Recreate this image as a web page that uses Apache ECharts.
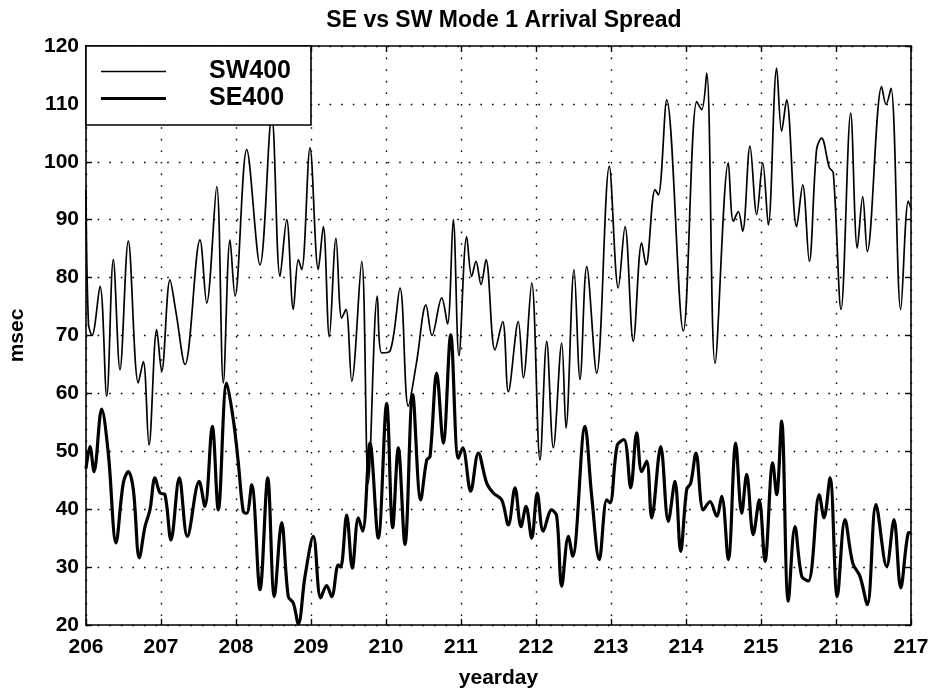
<!DOCTYPE html>
<html>
<head>
<meta charset="utf-8">
<script src="https://cdn.jsdelivr.net/npm/echarts@6/dist/echarts.min.js"></script>
<style>
  html, body { margin: 0; padding: 0; background: #fff; }
  #chart { width: 934px; height: 691px; }
</style>
</head>
<body>
<div id="chart"></div>
<script>
// Mode 1 arrival spread (msec) against yearday for the two arrays
const swDays = [206.000, 206.033, 206.080, 206.187, 206.276, 206.364, 206.453, 206.564, 206.697, 206.764,
  206.840, 206.943, 207.009, 207.120, 207.200, 207.320, 207.520, 207.609, 207.743, 207.831,
  207.920, 207.987, 208.143, 208.320, 208.476, 208.587, 208.676, 208.764, 208.831, 208.876,
  208.987, 209.097, 209.164, 209.244, 209.333, 209.409, 209.467, 209.543, 209.676, 209.764,
  209.884, 209.943, 210.053, 210.187, 210.297, 210.409, 210.533, 210.613, 210.743, 210.820,
  210.897, 210.973, 211.076, 211.143, 211.200, 211.267, 211.333, 211.453, 211.556, 211.631,
  211.764, 211.831, 211.943, 212.053, 212.143, 212.231, 212.343, 212.400, 212.507, 212.587,
  212.676, 212.809, 212.977, 213.097, 213.187, 213.297, 213.409, 213.467, 213.587, 213.631,
  213.743, 213.964, 214.143, 214.209, 214.276, 214.387, 214.564, 214.631, 214.697, 214.755,
  214.853, 214.943, 215.023, 215.097, 215.209, 215.275, 215.341, 215.475, 215.556, 215.644,
  215.741, 215.808, 215.911, 215.964, 216.067, 216.196, 216.284, 216.356, 216.417, 216.609,
  216.667, 216.733, 216.863, 216.964, 217.000];
const swValues = [95.2, 72, 70, 78.5, 59.5, 83.1, 64.1, 86.3, 61.8, 65.5,
  51.1, 71, 63.8, 79.6, 74, 65, 86.5, 75.6, 95.7, 61.8,
  86.5, 76.8, 102.1, 82.2, 108, 80.2, 90, 74.5, 83.1, 81.4,
  102.4, 81.4, 88.8, 69.8, 86.8, 73, 74.5, 62.1, 82.8, 44.5,
  76.8, 67, 67.3, 78.2, 57.8, 65.5, 75.3, 70, 76.5, 72,
  90, 66.5, 87.1, 80.2, 82.8, 78.8, 83.1, 67.5, 72.4, 60.3,
  72.4, 62.7, 79.1, 48.5, 69, 50.6, 68.7, 54, 81.4, 62.4,
  81.9, 63.5, 99.2, 78.2, 88.8, 69, 86, 82.2, 95.2, 94.3,
  110.7, 70.8, 110.4, 109, 115.3, 65.2, 99.8, 89.7, 91.4, 88,
  102.7, 90.9, 99.8, 89.1, 116.2, 105.3, 110.7, 88.8, 96, 82.8,
  102.1, 104.1, 99, 98.1, 74.5, 108.4, 85.1, 94, 84.5, 113,
  109.9, 112.7, 74.5, 93.2, 92];

const seDays = [206.000, 206.053, 206.107, 206.209, 206.297, 206.400, 206.497, 206.564, 206.631, 206.711,
  206.787, 206.853, 206.920, 206.987, 207.053, 207.133, 207.244, 207.351, 207.509, 207.585,
  207.684, 207.764, 207.876, 207.964, 208.031, 208.097, 208.143, 208.209, 208.320, 208.423,
  208.511, 208.609, 208.697, 208.764, 208.831, 208.920, 209.031, 209.129, 209.209, 209.276,
  209.364, 209.396, 209.476, 209.551, 209.631, 209.689, 209.787, 209.897, 210.009, 210.089,
  210.164, 210.253, 210.356, 210.463, 210.543, 210.587, 210.676, 210.764, 210.863, 210.964,
  211.023, 211.129, 211.231, 211.343, 211.431, 211.543, 211.631, 211.720, 211.800, 211.867,
  211.943, 212.017, 212.097, 212.209, 212.276, 212.343, 212.431, 212.489, 212.653, 212.743,
  212.844, 212.943, 212.987, 213.084, 213.173, 213.263, 213.343, 213.409, 213.476, 213.543,
  213.663, 213.764, 213.853, 213.929, 214.009, 214.063, 214.133, 214.231, 214.320, 214.409,
  214.476, 214.564, 214.663, 214.743, 214.809, 214.897, 214.977, 215.053, 215.156, 215.209,
  215.275, 215.364, 215.453, 215.543, 215.631, 215.777, 215.840, 215.920, 216.017, 216.120,
  216.223, 216.320, 216.417, 216.533, 216.676, 216.773, 216.863, 216.964, 217.000];
const seValues = [47, 50.8, 46.5, 57.3, 49.7, 34.2, 44.5, 46.5, 43.4, 31.6,
  37, 39.9, 45.4, 42.8, 42.5, 34.7, 45.4, 35.3, 44.8, 40.5,
  54.3, 39.9, 61.8, 55.5, 48, 39.6, 39.3, 44.2, 26.1, 45.4,
  24.9, 37.7, 24.9, 23.8, 20.2, 28.4, 35.3, 24.7, 26.8, 24.9,
  30.4, 30, 39, 29.8, 38.5, 36.2, 51.4, 35, 58.3, 36.8,
  50.6, 33.9, 59.8, 41.6, 48.5, 49.1, 63.5, 51.4, 70.1, 48.8,
  50.6, 43.1, 49.7, 44.5, 42.8, 41.6, 37.3, 43.7, 37, 40.5,
  35, 42.8, 36.2, 39.9, 38.8, 26.7, 35.3, 31.9, 54.3, 42.2,
  31.3, 41.6, 41.1, 51.1, 52, 43.7, 53.2, 46.5, 48.3, 38.5,
  50.8, 37.9, 44.8, 32.7, 43.4, 44.5, 49.7, 39.9, 41.3, 38.8,
  42.2, 31.3, 51.4, 39.3, 46, 35.6, 41.6, 31, 48, 42.5,
  55.2, 24.1, 37, 28.4, 27.6, 42.5, 38.5, 45.4, 24.9, 38.2,
  30.7, 28.4, 23.5, 40.8, 30.1, 38.2, 26.4, 35.9, 36];

const xTicks = { min: 206, max: 217, step: 1 };
const yTicks = { min: 20, max: 120, step: 10 };

const seriesNames = ['SW400', 'SE400'];
const lineWidths = [1.7, 3.2];
const titleText = 'SE vs SW Mode 1 Arrival Spread';
const xLabel = 'yearday';
const yLabel = 'msec';

const FONT = '"Liberation Sans", Arial, Helvetica, sans-serif';
const pairs = (xs, ys) => xs.map((x, i) => [x, ys[i]]);

// plain horizontal stroke used as the legend key, one per line weight
const legendStroke = (w) => 'path://M0,0 L65,0 L65,' + w + ' L0,' + w + ' Z';

const dotted = { color: '#000', width: 1.4, type: [1.6, 10] };
const frameAxis = (extra) => Object.assign({
  axisLine: { show: true, lineStyle: { color: '#000', width: 1.6 } },
  axisTick: { show: true, inside: true, length: 6, lineStyle: { color: '#000', width: 1.4 } },
  splitLine: { show: false },
  axisLabel: { show: false }
}, extra);

const chart = echarts.init(document.getElementById('chart'), null, { renderer: 'canvas' });
chart.setOption({
  animation: false,
  backgroundColor: '#fff',
  title: {
    text: titleText,
    left: 499,
    top: 4,
    textAlign: 'center',
    textStyle: { fontFamily: FONT, fontSize: 23, fontWeight: 'bold', color: '#000' }
  },
  grid: { left: 86, right: 23, top: 46, bottom: 66, containLabel: false, outerBoundsMode: 'none' },
  legend: {
    data: seriesNames.map((n, i) => ({ name: n, icon: legendStroke(lineWidths[i]) })),
    orient: 'vertical',
    left: 86,
    top: 46,
    padding: [12, 14, 13, 15],
    itemGap: 0,
    itemWidth: 65,
    itemHeight: 14,
    symbolKeepAspect: true,
    backgroundColor: '#fff',
    borderColor: '#000',
    borderWidth: 1.6,
    borderRadius: 0,
    textStyle: {
      fontFamily: FONT, fontSize: 25, fontWeight: 'bold', color: '#000', lineHeight: 27,
      padding: [0, 0, 0, 38], width: 88
    }
  },
  xAxis: [
    {
      type: 'value',
      min: xTicks.min, max: xTicks.max, interval: xTicks.step,
      name: xLabel,
      nameLocation: 'middle',
      nameGap: 43,
      nameTextStyle: { fontFamily: FONT, fontSize: 21, fontWeight: 'bold', color: '#000' },
      axisLine: { show: true, lineStyle: { color: '#000', width: 1.6 } },
      axisTick: { show: true, inside: true, length: 6, lineStyle: { color: '#000', width: 1.4 } },
      axisLabel: { fontFamily: FONT, fontSize: 21, fontWeight: 'bold', color: '#000', margin: 12 },
      splitLine: { show: true, lineStyle: dotted }
    },
    frameAxis({ type: 'value', position: 'top', min: xTicks.min, max: xTicks.max, interval: xTicks.step })
  ],
  yAxis: [
    {
      type: 'value',
      min: yTicks.min, max: yTicks.max, interval: yTicks.step,
      name: yLabel,
      nameLocation: 'middle',
      nameGap: 58,
      nameRotate: 90,
      nameTextStyle: { fontFamily: FONT, fontSize: 21, fontWeight: 'bold', color: '#000' },
      axisLine: { show: true, lineStyle: { color: '#000', width: 1.6 } },
      axisTick: { show: true, inside: true, length: 6, lineStyle: { color: '#000', width: 1.4 } },
      axisLabel: { fontFamily: FONT, fontSize: 21, fontWeight: 'bold', color: '#000', margin: 7 },
      splitLine: { show: true, lineStyle: dotted }
    },
    frameAxis({ type: 'value', position: 'right', min: yTicks.min, max: yTicks.max, interval: yTicks.step })
  ],
  series: [
    {
      name: seriesNames[0],
      type: 'line',
      data: pairs(swDays, swValues),
      showSymbol: false,
      symbol: 'none',
      smooth: 0.35,
      lineStyle: { color: '#000', width: lineWidths[0] },
      itemStyle: { color: '#000' },
      z: 3
    },
    {
      name: seriesNames[1],
      type: 'line',
      data: pairs(seDays, seValues),
      showSymbol: false,
      symbol: 'none',
      smooth: 0.35,
      lineStyle: { color: '#000', width: lineWidths[1] },
      itemStyle: { color: '#000' },
      z: 4
    }
  ]
});
</script>
</body>
</html>
